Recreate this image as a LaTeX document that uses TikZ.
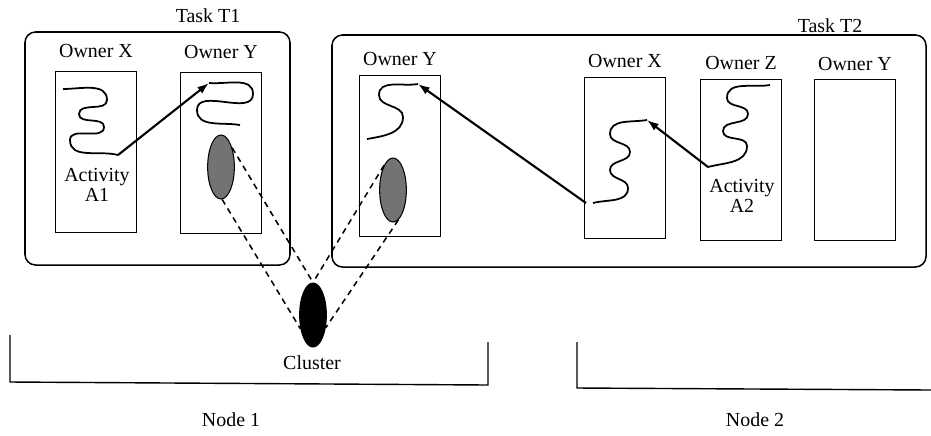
\documentclass[tikz,border=0pt]{standalone}
\usepackage{fontspec}
\setmainfont{Liberation Serif}
\usetikzlibrary{positioning,shapes.geometric,arrows.meta}

\begin{document}
\begin{tikzpicture}[x=0.03cm,y=-0.03cm,
    every node/.style={font=\fontsize{17}{17}\selectfont},
    taskbox/.style={draw,rounded corners=9pt,line width=1.3pt},
    ownerbox/.style={draw,line width=1.2pt,minimum width=2.43cm,minimum height=4.83cm,inner sep=0pt},
    blob/.style={draw,ellipse,line width=0.9pt,minimum width=0.8cm,minimum height=1.92cm,inner sep=0pt},
    wave/.style={line width=1.5pt},
    link/.style={line width=1.8pt,-{Latex[length=10pt,width=7pt]}},
    tie/.style={line width=1.3pt,dash pattern=on 5pt off 4pt}]
  \useasboundingbox (0,0) rectangle (931,435);

  % the two tasks
  \node (T1) [taskbox,minimum width=7.95cm,minimum height=6.99cm] at (157.5,148.5) {};
  \node (T2) [taskbox,minimum width=17.82cm,minimum height=6.96cm] at (629,151) {};
  \node (T1lab) at (208,16) {Task T1};
  \node (T2lab) at (830,26) {Task T2};

  % owners
  \node (OX1) [ownerbox] at (96,152) {};
  \node (OY1) [ownerbox] at (221,153) {};
  \node (OY2) [ownerbox] at (400,156) {};
  \node (OX2) [ownerbox] at (625,158) {};
  \node (OZ2) [ownerbox] at (741,160) {};
  \node (OY3) [ownerbox] at (855,160) {};
  \node (OX1lab) [above=8pt of OX1] {Owner X};
  \node (OY1lab) [above=8pt of OY1] {Owner Y};
  \node (OY2lab) [above=4pt of OY2] {Owner Y};
  \node (OX2lab) [above=4pt of OX2] {Owner X};
  \node (OZ2lab) [above=4pt of OZ2] {Owner Z};
  \node (OY3lab) [above=3pt of OY3] {Owner Y};

  \node (A1) [align=center] at (97,185) {Activity\\A1};
  \node (A2) [align=center] at (742,196) {Activity\\A2};

  % clusters
  \node (E1) [blob,fill=black!55] at (221,167) {};
  \node (E2) [blob,fill=black!55] at (393,190) {};
  \node (C) [blob,fill=black] at (313,315) {};
  \node (Clab) at (312,363) {Cluster};

  \draw [tie] (E1.60) -- (C.north);
  \draw [tie] (E1.-88) -- (C.228);
  \draw [tie] (E2.110) -- (C.north);
  \draw [tie] (E2.-80) -- (C.-45);

  % activities
  \coordinate (a1) at (118,155);
  \coordinate (b1) at (209,83);
  \coordinate (a2) at (708,167);
  \coordinate (b2) at (647,120);
  \coordinate (c2) at (593,203);
  \coordinate (d2) at (418,84);
  \draw [wave] (63,89) to[out=0,in=90] (107,100) to[out=-90,in=90] (79,114)
    to[out=-90,in=90] (104,127) to[out=-90,in=90] (70,140) to[out=-90,in=165] (a1);
  \draw [wave] (b1) to[out=-5,in=90] (253,94) to[out=-90,in=90] (197,110) to[out=-90,in=170] (240,125);
  \draw [wave] (d2) to[out=190,in=90] (379,95) to[out=-90,in=90] (403,117) to[out=-90,in=10] (367,139);
  \draw [wave] (b2) to[out=190,in=90] (610,134) to[out=-90,in=90] (630,152)
    to[out=-90,in=90] (610,170) to[out=-90,in=90] (628,188) to[out=-90,in=15] (c2);
  \draw [wave] (770,85) to[out=190,in=90] (727,98) to[out=-90,in=90] (748,114)
    to[out=-90,in=90] (723,131) to[out=-90,in=90] (747,146) to[out=-90,in=15] (a2);
  \draw [link] (a1) -- (b1);
  \draw [link] (a2) -- (b2);
  \draw [link] ([xshift=-6pt]c2) -- (d2);

  % nodes
  \draw [line width=1.2pt] (10,335) -- (10,382) -- (488,385) -- (488,342);
  \draw [line width=1.2pt] (577,342) -- (577,388) -- (931,390);
  \node (N1) at (231,420) {Node 1};
  \node (N2) at (755,420) {Node 2};
\end{tikzpicture}
\end{document}
